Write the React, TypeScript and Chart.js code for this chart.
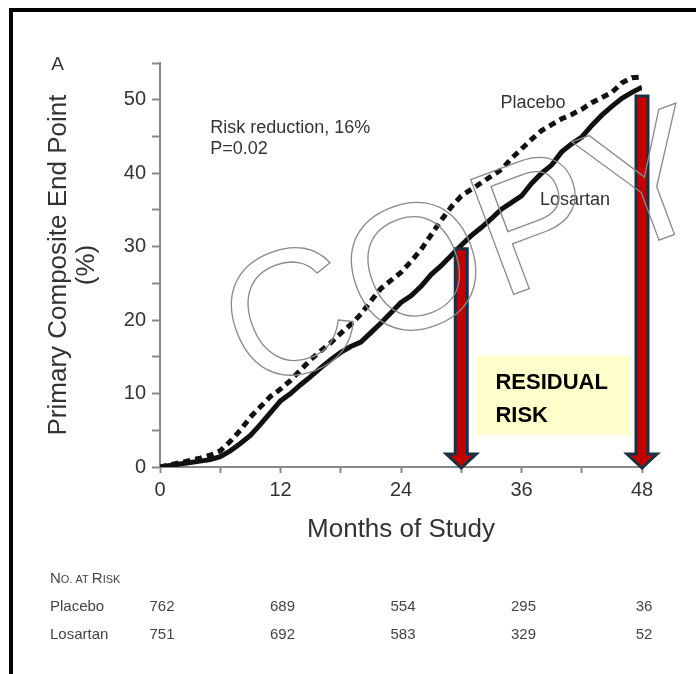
import React, { useEffect, useRef } from 'react';
import { Chart, registerables } from 'chart.js';

Chart.register(...registerables);

// ---------- data ----------
const months = [
  0, 1, 2, 3, 4, 5, 6, 7, 8, 9, 10, 11, 12, 13, 14, 15, 16, 17, 18, 19, 20, 21, 22, 23, 24,
  25, 26, 27, 28, 29, 30, 31, 32, 33, 34, 35, 36, 37, 38, 39, 40, 41, 42, 43, 44, 45, 46, 47, 48,
];
const placeboValues = [
  0, 0.3, 0.6, 0.9, 1.2, 1.6, 2.2, 3.5, 5.0, 6.8, 8.2, 9.6, 10.6, 11.8, 13.2, 14.6, 15.8, 16.9,
  18.2, 19.4, 20.8, 22.6, 24.3, 25.4, 26.5, 28.0, 29.6, 31.6, 33.6, 35.4, 36.9, 37.8, 38.7, 39.6,
  40.5, 42.0, 43.3, 44.6, 45.8, 46.6, 47.4, 48.0, 48.7, 49.6, 50.3, 51.0, 52.3, 53.0, 53.1,
];
const losartanValues = [
  0, 0.2, 0.4, 0.6, 0.8, 1.0, 1.4, 2.2, 3.2, 4.3, 5.8, 7.4, 9.0, 10.0, 11.2, 12.3, 13.5, 14.6,
  15.6, 16.4, 17.0, 18.3, 19.6, 21.0, 22.4, 23.3, 24.6, 26.2, 27.4, 28.8, 30.2, 31.5, 32.6, 33.8,
  35.1, 36.0, 36.9, 38.6, 40.0, 41.1, 42.9, 44.0, 44.9, 46.5, 47.9, 49.1, 50.2, 51.0, 51.7,
];
const xTickLabels = ['0', '12', '24', '36', '48'];
const yTickLabels = ['0', '10', '20', '30', '40', '50'];
const riskMonths = [0, 12, 24, 36, 48];
const placeboAtRisk = [762, 689, 554, 295, 36];
const losartanAtRisk = [751, 692, 583, 329, 52];
const arrowMonths = [30, 48];
const arrowTops = [29.7, 50.5];

const FONT = '"Liberation Sans", Arial, Helvetica, sans-serif';
const TEXT = '#333333';

function smallCaps(ctx: CanvasRenderingContext2D, parts: [string, boolean][], x: number, y: number, big: number, small: number) {
  let cx = x;
  for (const [s, isBig] of parts) {
    ctx.font = `${isBig ? big : small}px ${FONT}`;
    ctx.fillText(s, cx, y);
    cx += ctx.measureText(s).width;
  }
}

const overlay = {
  id: 'overlay',
  afterDatasetsDraw(chart: any) {
    const { ctx } = chart;
    const xs = chart.scales.x;
    const ys = chart.scales.y;
    ctx.save();

    // annotation texts
    ctx.fillStyle = TEXT;
    ctx.textBaseline = 'alphabetic';
    ctx.textAlign = 'left';
    ctx.font = `18px ${FONT}`;
    ctx.fillText('Risk reduction, 16%', xs.getPixelForValue(5), ys.getPixelForValue(45.5));
    ctx.fillText('P=0.02', xs.getPixelForValue(5), ys.getPixelForValue(42.6));
    ctx.fillText('Placebo', xs.getPixelForValue(33.9), ys.getPixelForValue(48.9));
    ctx.fillText('Losartan', xs.getPixelForValue(37.85), ys.getPixelForValue(35.7));
    ctx.textAlign = 'center';
    ctx.textBaseline = 'middle';
    ctx.font = `19px ${FONT}`;
    ctx.fillText('A', xs.getPixelForValue(-10.2), ys.getPixelForValue(54.7));

    // residual risk box
    const bx0 = xs.getPixelForValue(31.5);
    const bx1 = xs.getPixelForValue(46.8);
    const by0 = ys.getPixelForValue(15.1);
    const by1 = ys.getPixelForValue(4.36);
    ctx.fillStyle = '#ffffcc';
    ctx.fillRect(bx0, by0, bx1 - bx0, by1 - by0);
    ctx.fillStyle = '#000000';
    ctx.textAlign = 'left';
    ctx.textBaseline = 'alphabetic';
    ctx.font = `bold 22px ${FONT}`;
    ctx.fillText('RESIDUAL', xs.getPixelForValue(33.4), ys.getPixelForValue(10.6));
    ctx.fillText('RISK', xs.getPixelForValue(33.4), ys.getPixelForValue(6.1));

    // arrows
    arrowMonths.forEach((m, i) => {
      const px = xs.getPixelForValue(m);
      const top = ys.getPixelForValue(arrowTops[i]);
      const bottom = ys.getPixelForValue(0) + 1;
      const sw = 6, hw = 15, hh = 14;
      ctx.beginPath();
      ctx.moveTo(px - sw, top);
      ctx.lineTo(px + sw, top);
      ctx.lineTo(px + sw, bottom - hh);
      ctx.lineTo(px + hw, bottom - hh);
      ctx.lineTo(px, bottom);
      ctx.lineTo(px - hw, bottom - hh);
      ctx.lineTo(px - sw, bottom - hh);
      ctx.closePath();
      ctx.fillStyle = '#c00000';
      ctx.fill();
      ctx.lineWidth = 3;
      ctx.lineJoin = 'miter';
      ctx.strokeStyle = '#1c3044';
      ctx.stroke();
    });
    ctx.restore();
  },
  afterDraw(chart: any) {
    const { ctx } = chart;
    const xs = chart.scales.x;
    ctx.save();
    // number at risk table
    ctx.fillStyle = '#444444';
    ctx.textBaseline = 'alphabetic';
    ctx.textAlign = 'left';
    const lx = 50;
    smallCaps(ctx, [['N', true], ['O. AT ', false], ['R', true], ['ISK', false]], lx, 583, 15, 11);
    ctx.font = `15px ${FONT}`;
    ctx.fillText('Placebo', lx, 611);
    ctx.fillText('Losartan', lx, 639);
    ctx.textAlign = 'center';
    riskMonths.forEach((m, i) => {
      const px = xs.getPixelForValue(m) + 2;
      ctx.fillText(String(placeboAtRisk[i]), px, 611);
      ctx.fillText(String(losartanAtRisk[i]), px, 639);
    });

    // watermark
    ctx.translate(250, 393);
    ctx.rotate((-20.5 * Math.PI) / 180);
    ctx.font = `178px ${FONT}`;
    ctx.textAlign = 'left';
    ctx.textBaseline = 'alphabetic';
    ctx.lineWidth = 1.3;
    ctx.strokeStyle = '#8a8a8a';
    ctx.strokeText('COPY', 0, 0);
    ctx.restore();
  },
};

export default function App() {
  const ref = useRef<HTMLCanvasElement | null>(null);
  useEffect(() => {
    if (!ref.current) return;
    const chart = new Chart(ref.current, {
      type: 'line',
      data: {
        labels: months,
        datasets: [
          {
            label: 'Placebo',
            data: months.map((m, i) => ({ x: m, y: placeboValues[i] })),
            borderColor: '#111111',
            borderWidth: 5,
            borderDash: [7, 5],
            pointRadius: 0,
            tension: 0,
            fill: false,
          },
          {
            label: 'Losartan',
            data: months.map((m, i) => ({ x: m, y: losartanValues[i] })),
            borderColor: '#111111',
            borderWidth: 5,
            pointRadius: 0,
            tension: 0,
            fill: false,
          },
        ],
      },
      options: {
        animation: false,
        responsive: false,
        devicePixelRatio: 1,
        layout: { padding: { left: 45, right: 54, top: 63, bottom: 127 } },
        plugins: { legend: { display: false }, tooltip: { enabled: false } },
        scales: {
          x: {
            type: 'linear',
            min: 0,
            max: 48,
            afterFit: (s: any) => { s.height = 80; },
            border: { display: true, color: '#888888', width: 2 },
            grid: { display: true, drawOnChartArea: false, drawTicks: true, tickLength: 6, tickColor: '#888888', tickWidth: 2 },
            ticks: {
              stepSize: 6,
              autoSkip: false,
              maxRotation: 0,
              padding: 5,
              color: TEXT,
              font: { family: FONT, size: 20 },
              callback: (v: any) => (xTickLabels.includes(String(v)) ? String(v) : ''),
            },
            title: {
              display: true,
              text: 'Months of Study',
              color: TEXT,
              font: { family: FONT, size: 26, lineHeight: 1.2 },
              padding: { top: 0, bottom: 2 },
            },
          },
          y: {
            type: 'linear',
            min: 0,
            max: 55,
            afterFit: (s: any) => { s.width = 115; },
            border: { display: true, color: '#888888', width: 2 },
            grid: { display: true, drawOnChartArea: false, drawTicks: true, tickLength: 8, tickColor: '#888888', tickWidth: 2 },
            ticks: {
              stepSize: 5,
              autoSkip: false,
              padding: 6,
              color: TEXT,
              font: { family: FONT, size: 20 },
              callback: (v: any) => (yTickLabels.includes(String(v)) ? String(v) : ''),
            },
            title: {
              display: true,
              text: ['Primary Composite End Point', '(%)'],
              color: TEXT,
              font: { family: FONT, size: 26, lineHeight: 28 / 26 },
              padding: { top: 0, bottom: 0 },
            },
          },
        },
      },
      plugins: [overlay],
    });
    return () => chart.destroy();
  }, []);

  return (
    <div
      style={{
        position: 'absolute',
        left: 0,
        top: 0,
        width: 696,
        height: 674,
        overflow: 'hidden',
        background: '#ffffff',
      }}
    >
      <canvas ref={ref} width={696} height={674} style={{ display: 'block', position: 'absolute', left: 0, top: 0 }} />
      <div
        style={{
          position: 'absolute',
          left: 9,
          top: 8,
          width: 720,
          height: 720,
          borderLeft: '4px solid #000',
          borderTop: '4px solid #000',
          pointerEvents: 'none',
        }}
      />
    </div>
  );
}
